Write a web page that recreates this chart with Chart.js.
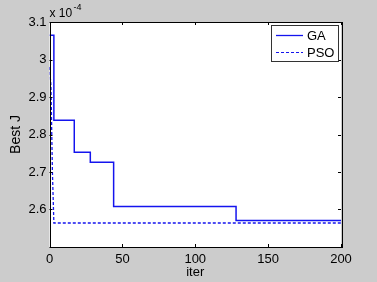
<!DOCTYPE html>
<html lang="en">
<head>
  <meta charset="UTF-8">
  <title>Best J vs iter</title>
  <style>
    html, body {
      margin: 0;
      padding: 0;
      background: #cccccc;
    }
    canvas {
      display: block;
    }
  </style>
</head>
<body>
  <canvas id="bestChart" width="377" height="282"></canvas>

  <script src="https://cdn.jsdelivr.net/npm/chart.js"></script>
  <script>
    // Data (values in units of 1e-4)
    const gaIter = [0, 3, 17, 28, 44, 128, 200];
    const gaBest = [3.065, 2.838, 2.753, 2.726, 2.608, 2.571, 2.571];

    const psoIter = [0, 1, 2, 3, 200];
    const psoBest = [2.98, 2.93, 2.70, 2.564, 2.564];

    const xTicks = [0, 50, 100, 150, 200];
    const yTicks = [2.5, 2.6, 2.7, 2.8, 2.9, 3.0, 3.1];

    const FONT = 'Arial, "Liberation Sans", sans-serif';

    function toPoints(xs, ys) {
      return xs.map((x, i) => ({ x: x, y: ys[i] }));
    }

    // box, inward ticks, exponent label and legend like the MATLAB figure
    const matlabAxes = {
      id: 'matlabAxes',
      beforeDraw(chart) {
        const { ctx, chartArea: a } = chart;
        ctx.save();
        ctx.fillStyle = '#ffffff';
        ctx.fillRect(a.left, a.top, a.right - a.left, a.bottom - a.top);
        ctx.restore();
      },
      afterDraw(chart) {
        const { ctx, chartArea: a, scales } = chart;
        ctx.save();
        ctx.strokeStyle = '#000000';
        ctx.lineWidth = 1;
        ctx.strokeRect(Math.round(a.left) + 0.5, Math.round(a.top) + 0.5,
          Math.round(a.right - a.left), Math.round(a.bottom - a.top));

        const len = 3;
        ctx.beginPath();
        xTicks.forEach(v => {
          const px = Math.round(scales.x.getPixelForValue(v)) + 0.5;
          ctx.moveTo(px, a.bottom); ctx.lineTo(px, a.bottom - len);
          ctx.moveTo(px, a.top); ctx.lineTo(px, a.top + len);
        });
        yTicks.forEach(v => {
          const py = Math.round(scales.y.getPixelForValue(v)) + 0.5;
          ctx.moveTo(a.left, py); ctx.lineTo(a.left + len, py);
          ctx.moveTo(a.right, py); ctx.lineTo(a.right - len, py);
        });
        ctx.stroke();

        // exponent
        ctx.fillStyle = '#000000';
        ctx.textBaseline = 'alphabetic';
        ctx.textAlign = 'left';
        ctx.font = '12px ' + FONT;
        ctx.fillText('x 10', a.left, a.top - 5);
        ctx.font = '9px ' + FONT;
        ctx.fillText('-4', a.left + 24, a.top - 12);

        // legend
        const lx = 271, ly = 25, lw = 67, lh = 36;
        ctx.fillStyle = '#ffffff';
        ctx.fillRect(lx, ly, lw, lh);
        ctx.strokeStyle = '#333333';
        ctx.strokeRect(lx + 0.5, ly + 0.5, lw, lh);
        ctx.font = '13px ' + FONT;
        ctx.textBaseline = 'middle';
        chart.data.datasets.forEach((ds, i) => {
          const y = ly + 10 + i * 17;
          ctx.strokeStyle = ds.borderColor;
          ctx.lineWidth = ds.borderDash ? 1 : 1.3;
          ctx.setLineDash(ds.borderDash || []);
          ctx.beginPath();
          ctx.moveTo(lx + 5, y + 0.5);
          ctx.lineTo(lx + 32, y + 0.5);
          ctx.stroke();
          ctx.setLineDash([]);
          ctx.fillStyle = '#000000';
          ctx.fillText(ds.label, lx + 36, y + 1);
        });
        ctx.restore();
      }
    };

    new Chart(document.getElementById('bestChart').getContext('2d'), {
      type: 'line',
      data: {
        datasets: [
          {
            label: 'GA',
            data: toPoints(gaIter, gaBest),
            borderColor: '#1414ee',
            borderWidth: 1.5,
            stepped: 'before',
            pointRadius: 0,
            fill: false
          },
          {
            label: 'PSO',
            data: toPoints(psoIter, psoBest),
            borderColor: '#1414ee',
            borderWidth: 1.3,
            borderDash: [3, 2],
            pointRadius: 0,
            fill: false
          }
        ]
      },
      options: {
        responsive: false,
        animation: false,
        devicePixelRatio: 1,
        layout: { padding: { left: 0, right: 36, top: 22, bottom: 0 } },
        plugins: {
          legend: { display: false },
          tooltip: { enabled: false }
        },
        scales: {
          x: {
            type: 'linear',
            min: 0,
            max: 200,
            afterBuildTicks: s => { s.ticks = xTicks.map(v => ({ value: v })); },
            afterFit: s => { s.height = 35; },
            grid: { display: false, drawTicks: false },
            border: { display: false },
            ticks: { color: '#000', padding: 5, maxRotation: 0, autoSkip: false, font: { family: FONT, size: 13 } },
            title: { display: true, text: 'iter', color: '#000', padding: { top: 0, bottom: 2 }, font: { family: FONT, size: 13 } }
          },
          y: {
            type: 'linear',
            min: 2.5,
            max: 3.1,
            afterBuildTicks: s => { s.ticks = yTicks.map(v => ({ value: v })); },
            afterFit: s => { s.width = 49.5; },
            grid: { display: false, drawTicks: false },
            border: { display: false },
            ticks: {
              color: '#000',
              padding: 3,
              autoSkip: false,
              font: { family: FONT, size: 13 },
              callback: v => (v === 2.5 ? '' : String(Math.round(v * 10) / 10))
            },
            title: { display: true, text: 'Best J', color: '#000', padding: { top: 8, bottom: 0 }, font: { family: FONT, size: 14 } }
          }
        }
      },
      plugins: [matlabAxes]
    });
  </script>
</body>
</html>
